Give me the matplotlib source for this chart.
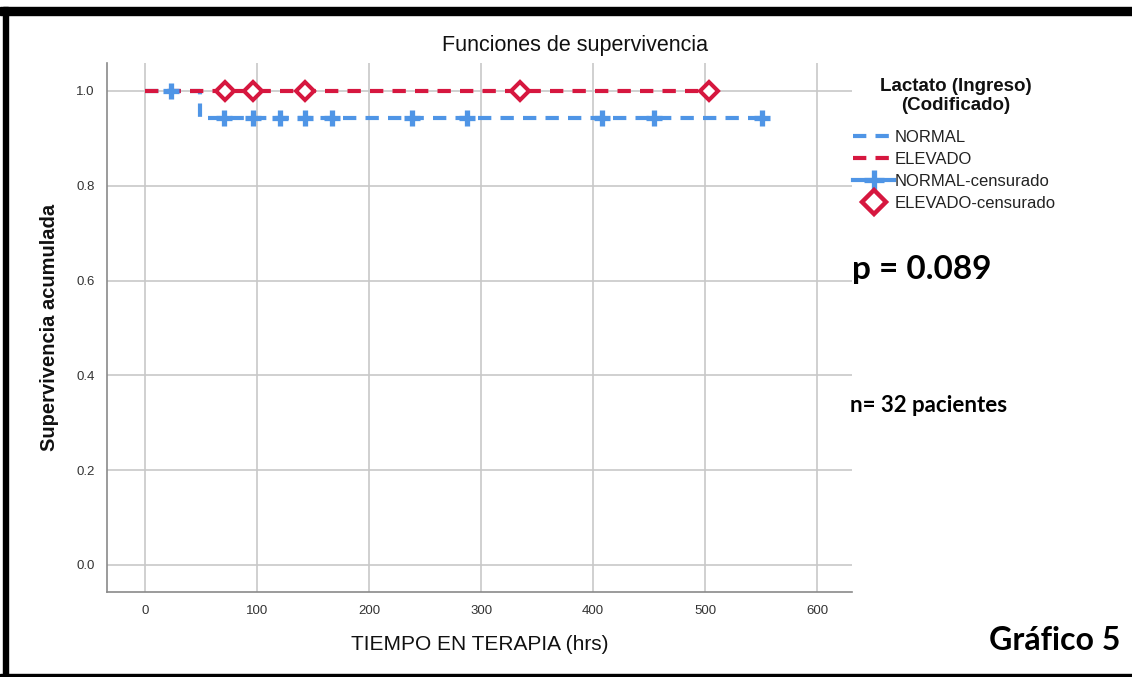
import matplotlib
matplotlib.use("Agg")
import matplotlib.pyplot as plt
from matplotlib.lines import Line2D
from matplotlib.patches import Rectangle
import numpy as np

# ---- data ----
normal_t = [0, 49, 551]
normal_s = [1.0, 0.944, 0.944]
elevado_t = [0, 503]
elevado_s = [1.0, 1.0]
normal_cens_t = [23, 70, 96, 120, 143, 167, 238, 287, 408, 454, 551]
elevado_cens_t = [71, 96, 143, 335, 503]
xticks = [0, 100, 200, 300, 400, 500, 600]
yticks = [0.0, 0.2, 0.4, 0.6, 0.8, 1.0]

BLUE = "#4f95e6"
RED = "#d6173f"
FONT = "Liberation Sans"

def surv_at(ts, ss, t):
    idx = np.searchsorted(ts, t, side="right") - 1
    return ss[idx]

W, H = 1132, 677
fig = plt.figure(figsize=(W / 100, H / 100), dpi=100)
fig.patch.set_facecolor("white")

# outer black frame
fig.patches.append(Rectangle((0, 1 - 15 / H), 1, 8 / H, transform=fig.transFigure,
                             color="black", zorder=0))
fig.patches.append(Rectangle((3 / W, 0), 5 / W, 1 - 7 / H, transform=fig.transFigure,
                             color="black", zorder=0))
fig.patches.append(Rectangle((0, 0), 1, 3 / H, transform=fig.transFigure,
                             color="black", zorder=0))

ax = fig.add_axes([107 / W, 1 - 592 / H, (852 - 107) / W, (592 - 63) / H])
ax.set_xlim(-34, 631)
ax.set_ylim(-0.057, 1.059)

for sp in ["top", "right"]:
    ax.spines[sp].set_visible(False)
for sp in ["left", "bottom"]:
    ax.spines[sp].set_color("#8a8a8a")
    ax.spines[sp].set_linewidth(1.2)

ax.set_xticks(xticks)
ax.set_yticks(yticks)
ax.set_xticklabels([str(v) for v in xticks], fontfamily=FONT, fontsize=9.5, color="#333333")
ax.set_yticklabels([f"{v:.1f}" for v in yticks], fontfamily=FONT, fontsize=9.5, color="#333333")
ax.tick_params(axis="both", length=0, pad=9)
ax.grid(True, color="#c8c8c8", linewidth=1.2)
ax.set_axisbelow(True)

dash = (0, (3.2, 2.2))
ax.step(normal_t, normal_s, where="post", color=BLUE, lw=3, linestyle=dash, zorder=3)
ax.step(elevado_t, elevado_s, where="post", color=RED, lw=3, linestyle=dash, zorder=4)

ax.plot(normal_cens_t, [surv_at(normal_t, normal_s, t) for t in normal_cens_t],
        linestyle="none", marker="+", markersize=12, mew=3.8, color=BLUE, zorder=5)
ax.plot(elevado_cens_t, [surv_at(elevado_t, elevado_s, t) for t in elevado_cens_t],
        linestyle="none", marker="D", markersize=9.5, mew=2.9, mec=RED, mfc="white", zorder=6)

fig.text(575 / W, 1 - 46 / H, "Funciones de supervivencia", ha="center", va="center",
         fontfamily=FONT, fontsize=15.5, color="#111111")
fig.text(50 / W, 1 - 327 / H, "Supervivencia acumulada", ha="center", va="center",
         rotation=90, fontfamily=FONT, fontsize=14.5, fontweight="bold", color="#111111")
fig.text(480 / W, 1 - 645 / H, "TIEMPO EN TERAPIA (hrs)", ha="center", va="center",
         fontfamily=FONT, fontsize=15, color="#111111")

# legend title
fig.text(956 / W, 1 - 96 / H, "Lactato (Ingreso)\n(Codificado)", ha="center", va="center",
         multialignment="center", fontfamily=FONT, fontsize=13.5, fontweight="bold",
         color="#111111", linespacing=1.15)

handles = [
    Line2D([], [], color=BLUE, lw=3, linestyle=dash),
    Line2D([], [], color=RED, lw=3, linestyle=dash),
    Line2D([], [], color=BLUE, lw=3, marker="+", markersize=15, mew=3.8),
    Line2D([], [], color=RED, lw=0, marker="D", markersize=12, mew=3.2, mec=RED, mfc="white"),
]
labels = ["NORMAL", "ELEVADO", "NORMAL-censurado", "ELEVADO-censurado"]
leg = fig.legend(handles, labels, loc="upper left",
                 bbox_to_anchor=(846 / W, 1 - 123 / H), frameon=False,
                 prop={"family": FONT, "size": 12},
                 handlelength=2.5, handletextpad=0.02, labelspacing=0.42,
                 borderaxespad=0, borderpad=0.4)
for t in leg.get_texts():
    t.set_color("#222222")

fig.text(852 / W, 1 - 270 / H, "p = 0.089", ha="left", va="center",
         fontfamily="Lato", fontsize=24, fontweight="bold", color="black")
fig.text(850 / W, 1 - 405 / H, "n= 32 pacientes", ha="left", va="center",
         fontfamily="Lato", fontsize=16, fontweight="bold", color="black")
fig.text(1120 / W, 1 - 640 / H, "Gráfico 5", ha="right", va="center",
         fontfamily="Lato", fontsize=23, fontweight="bold", color="black")

fig.savefig("out.png", dpi=100, facecolor="white")
